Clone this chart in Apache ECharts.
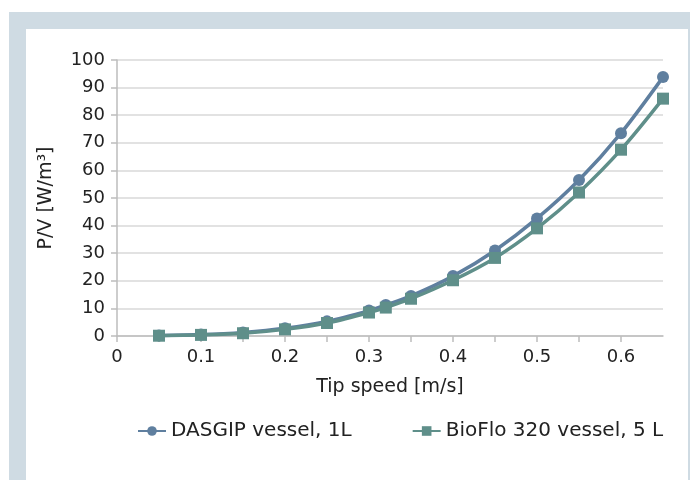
<!DOCTYPE html>
<html>
<head>
<meta charset="utf-8">
<script src="https://cdn.jsdelivr.net/npm/echarts@6/dist/echarts.min.js"></script>
<style>
  html, body { margin: 0; padding: 0; background: #fff; }
  .frame {
    position: absolute; left: 9px; top: 12px; width: 681px; height: 468px;
    background: #cfdbe3;
  }
  .inner {
    position: absolute; left: 26px; top: 29px; width: 662px; height: 451px;
    background: #fff;
  }
  #chart { position: absolute; left: 0; top: 0; width: 690px; height: 480px; }
</style>
</head>
<body>
<div class="frame"></div>
<div class="inner"></div>
<div id="chart"></div>
<script>
const tipSpeed = [0.05, 0.1, 0.15, 0.2, 0.25, 0.3, 0.32, 0.35, 0.4, 0.45, 0.5, 0.55, 0.6, 0.65]
const dasgip = [0.2, 0.5, 1.3, 2.8, 5.3, 9.2, 11.2, 14.5, 21.7, 31, 42.6, 56.5, 73.5, 93.8]
const bioflo = [0.1, 0.4, 1.0, 2.4, 4.7, 8.5, 10.3, 13.5, 20.2, 28.3, 39, 52, 67.5, 86]
const seriesNames = ['DASGIP vessel, 1L', 'BioFlo 320 vessel, 5 L']

const font = '"DejaVu Sans", sans-serif'
const axisGrey = '#bdbdbd'

const chart = echarts.init(document.getElementById('chart'))

chart.setOption({
  backgroundColor: 'transparent',
  textStyle: { fontFamily: font },
  grid: { left: 117, right: 27, top: 60, bottom: 144 },
  legend: {
    bottom: 34,
    left: 132,
    itemWidth: 28,
    itemHeight: 12,
    itemGap: 60,
    textStyle: { fontFamily: font, fontSize: 20, color: '#222' },
    data: seriesNames
  },
  xAxis: {
    type: 'value',
    min: 0,
    max: 0.65,
    interval: 0.05,
    name: 'Tip speed [m/s]',
    nameLocation: 'middle',
    nameGap: 42,
    nameTextStyle: { fontSize: 19, color: '#222', fontFamily: font },
    axisLine: { lineStyle: { color: axisGrey, width: 1.5 } },
    axisTick: { show: true, length: 6, lineStyle: { color: axisGrey, width: 1.5 } },
    axisLabel: {
      fontSize: 18, color: '#222', margin: 12, fontFamily: font,
      showMaxLabel: false,
      formatter: v => {
        const r = Math.round(v * 100)
        return r % 10 === 0 ? String(r / 100) : ''
      }
    },
    splitLine: { show: false }
  },
  yAxis: {
    type: 'value',
    min: 0,
    max: 100,
    interval: 10,
    name: 'P/V [W/m³]',
    nameLocation: 'middle',
    nameGap: 61,
    nameTextStyle: { fontSize: 19, color: '#222', fontFamily: font },
    axisLine: { show: true, lineStyle: { color: axisGrey, width: 1.5 } },
    axisTick: { show: true, length: 6, lineStyle: { color: axisGrey, width: 1.5 } },
    axisLabel: { fontSize: 18, color: '#222', margin: 12, fontFamily: font },
    splitLine: { lineStyle: { color: '#d9d9d9', width: 1.5 } }
  },
  series: [
    {
      name: seriesNames[0],
      type: 'line',
      smooth: 0.3,
      symbol: 'circle',
      symbolSize: 12,
      data: tipSpeed.map((x, i) => [x, dasgip[i]]),
      lineStyle: { color: '#5f7f9f', width: 3.5 },
      itemStyle: { color: '#5f7f9f' },
      z: 3
    },
    {
      name: seriesNames[1],
      type: 'line',
      smooth: 0.3,
      symbol: 'rect',
      symbolSize: 12,
      data: tipSpeed.map((x, i) => [x, bioflo[i]]),
      lineStyle: { color: '#5f8f8a', width: 3.5 },
      itemStyle: { color: '#5f8f8a' },
      z: 4
    }
  ]
})
</script>
</body>
</html>
